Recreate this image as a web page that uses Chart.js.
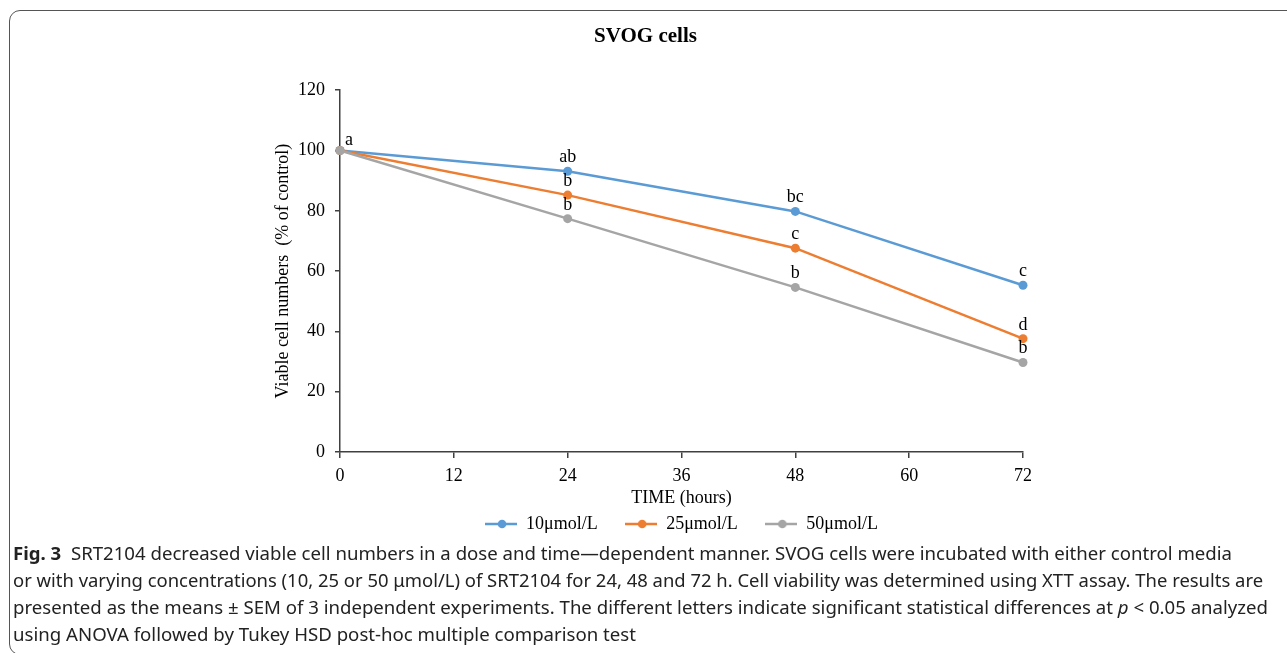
<!DOCTYPE html>
<html>
<head>
<meta charset="utf-8">
<script src="https://cdn.jsdelivr.net/npm/chart.js@4/dist/chart.umd.min.js"></script>
<style>
  html, body { margin: 0; padding: 0; background: #fff; overflow: hidden; }
  body { width: 1287px; height: 653px; position: relative; }
  #frame {
    position: absolute; left: 9px; top: 10px; width: 1320px; height: 645px;
    border: 1.5px solid #555; border-radius: 11px; box-sizing: border-box;
  }
  #wrap { position: absolute; left: 0; top: 0; width: 1287px; height: 549px; }
  #caption {
    position: absolute; left: 13px; top: 540px;
    font-family: "Liberation Sans Narrow", "Noto Sans", sans-serif;
    font-size: 18px; color: #222; line-height: 27px;
  }
  #caption div { white-space: nowrap; width: max-content; transform-origin: left center; }
</style>
</head>
<body>
<div id="frame"></div>
<div id="wrap"><canvas id="chart"></canvas></div>
<div id="caption">
  <div data-w="1219"><b>Fig. 3</b>&nbsp; SRT2104 decreased viable cell numbers in a dose and time—dependent manner. SVOG cells were incubated with either control media</div>
  <div data-w="1250">or with varying concentrations (10, 25 or 50 μmol/L) of SRT2104 for 24, 48 and 72 h. Cell viability was determined using XTT assay. The results are</div>
  <div data-w="1255">presented as the means ± SEM of 3 independent experiments. The different letters indicate significant statistical differences at <i>p</i> &lt; 0.05 analyzed</div>
  <div data-w="623">using ANOVA followed by Tukey HSD post-hoc multiple comparison test</div>
</div>
<script>
const hours = [0, 24, 48, 72];
const seriesNames = ['10μmol/L', '25μmol/L', '50μmol/L'];
const viable10 = [100, 93.1, 79.8, 55.3];
const viable25 = [100, 85.2, 67.6, 37.6];
const viable50 = [100, 77.4, 54.6, 29.7];
const letters10 = ['a', 'ab', 'bc', 'c'];
const letters25 = ['', 'b', 'c', 'd'];
const letters50 = ['', 'b', 'b', 'b'];
const colors = ['#5B9BD5', '#ED7D31', '#A5A5A5'];

const serif = '"Liberation Serif", "Times New Roman", serif';
const axisColor = '#404040';

function legendIcon(color) {
  const c = document.createElement('canvas');
  c.width = 32; c.height = 10;
  const g = c.getContext('2d');
  g.strokeStyle = color; g.lineWidth = 2.5;
  g.beginPath(); g.moveTo(0, 5); g.lineTo(32, 5); g.stroke();
  g.fillStyle = color;
  g.beginPath(); g.arc(17, 5, 4.3, 0, Math.PI * 2); g.fill();
  return c;
}
const icons = colors.map(legendIcon);

// letters above each point
const letterPlugin = {
  id: 'letters',
  afterDatasetsDraw(chart) {
    const ctx = chart.ctx;
    ctx.save();
    ctx.font = '18px ' + serif;
    ctx.fillStyle = '#000';
    ctx.textAlign = 'center';
    ctx.textBaseline = 'alphabetic';
    chart.data.datasets.forEach((ds, i) => {
      const meta = chart.getDatasetMeta(i);
      ds.letters.forEach((t, j) => {
        if (!t) return;
        const pt = meta.data[j];
        if (j === 0) {
          ctx.fillText(t, pt.x + 9, pt.y - 6);
        } else {
          ctx.fillText(t, pt.x, pt.y - 9);
        }
      });
    });
    ctx.restore();
  }
};

const makeSet = (label, values, letters, color, order) => ({
  label: label,
  data: hours.map((h, i) => ({ x: h, y: values[i] })),
  letters: letters,
  borderColor: color,
  backgroundColor: color,
  borderWidth: 2.5,
  pointStyle: 'circle',
  pointRadius: 4.5,
  pointHoverRadius: 4.5,
  pointBorderWidth: 0,
  clip: false,
  order: order
});

new Chart(document.getElementById('chart'), {
  type: 'line',
  data: {
    datasets: [
      makeSet(seriesNames[0], viable10, letters10, colors[0], 2),
      makeSet(seriesNames[1], viable25, letters25, colors[1], 1),
      makeSet(seriesNames[2], viable50, letters50, colors[2], 0)
    ]
  },
  plugins: [letterPlugin],
  options: {
    responsive: true,
    maintainAspectRatio: false,
    animation: false,
    layout: { padding: { left: 268, right: 264, top: 0, bottom: 6 } },
    plugins: {
      tooltip: { enabled: false },
      title: {
        display: true,
        text: 'SVOG cells',
        color: '#000',
        font: { family: serif, size: 21, weight: 'bold' },
        padding: { top: 24, bottom: 41 }
      },
      legend: {
        position: 'bottom',
        fullSize: false,
        labels: {
          usePointStyle: true,
          pointStyleWidth: 32,
          color: '#000',
          font: { family: serif, size: 18 },
          padding: 8,
          boxHeight: 10,
          sort: (a, b) => a.datasetIndex - b.datasetIndex,
          generateLabels(chart) {
            const items = Chart.defaults.plugins.legend.labels.generateLabels(chart);
            items.forEach(it => {
              it.pointStyle = icons[it.datasetIndex];
              if (it.datasetIndex < 2) it.text += '\u2003\u200A';
            });
            return items;
          }
        }
      }
    },
    scales: {
      x: {
        type: 'linear',
        min: 0, max: 72,
        ticks: { stepSize: 12, color: '#000', font: { family: serif, size: 18, lineHeight: 1 }, padding: 9 },
        grid: { drawOnChartArea: false, tickLength: 6, color: axisColor, lineWidth: 1.5 },
        border: { color: axisColor, width: 1.5 },
        title: {
          display: true, text: 'TIME (hours)', color: '#000',
          font: { family: serif, size: 18, lineHeight: 1 }, padding: { top: -5, bottom: 0 }
        }
      },
      y: {
        min: 0, max: 120,
        ticks: { stepSize: 20, color: '#000', font: { family: serif, size: 18 }, padding: 10 },
        grid: { drawOnChartArea: false, tickLength: 5, color: axisColor, lineWidth: 1.5 },
        border: { color: axisColor, width: 1.5 },
        title: {
          display: true, text: 'Viable cell numbers  (% of control)', color: '#000',
          font: { family: serif, size: 18, lineHeight: 1 }, padding: { top: 6, bottom: -4 }
        }
      }
    }
  }
});

// squeeze caption lines to the widths in the figure
document.querySelectorAll('#caption div').forEach(d => {
  const target = +d.dataset.w;
  const w = d.getBoundingClientRect().width;
  if (w > 0) d.style.transform = 'scaleX(' + (target / w).toFixed(4) + ')';
});
</script>
</body>
</html>
